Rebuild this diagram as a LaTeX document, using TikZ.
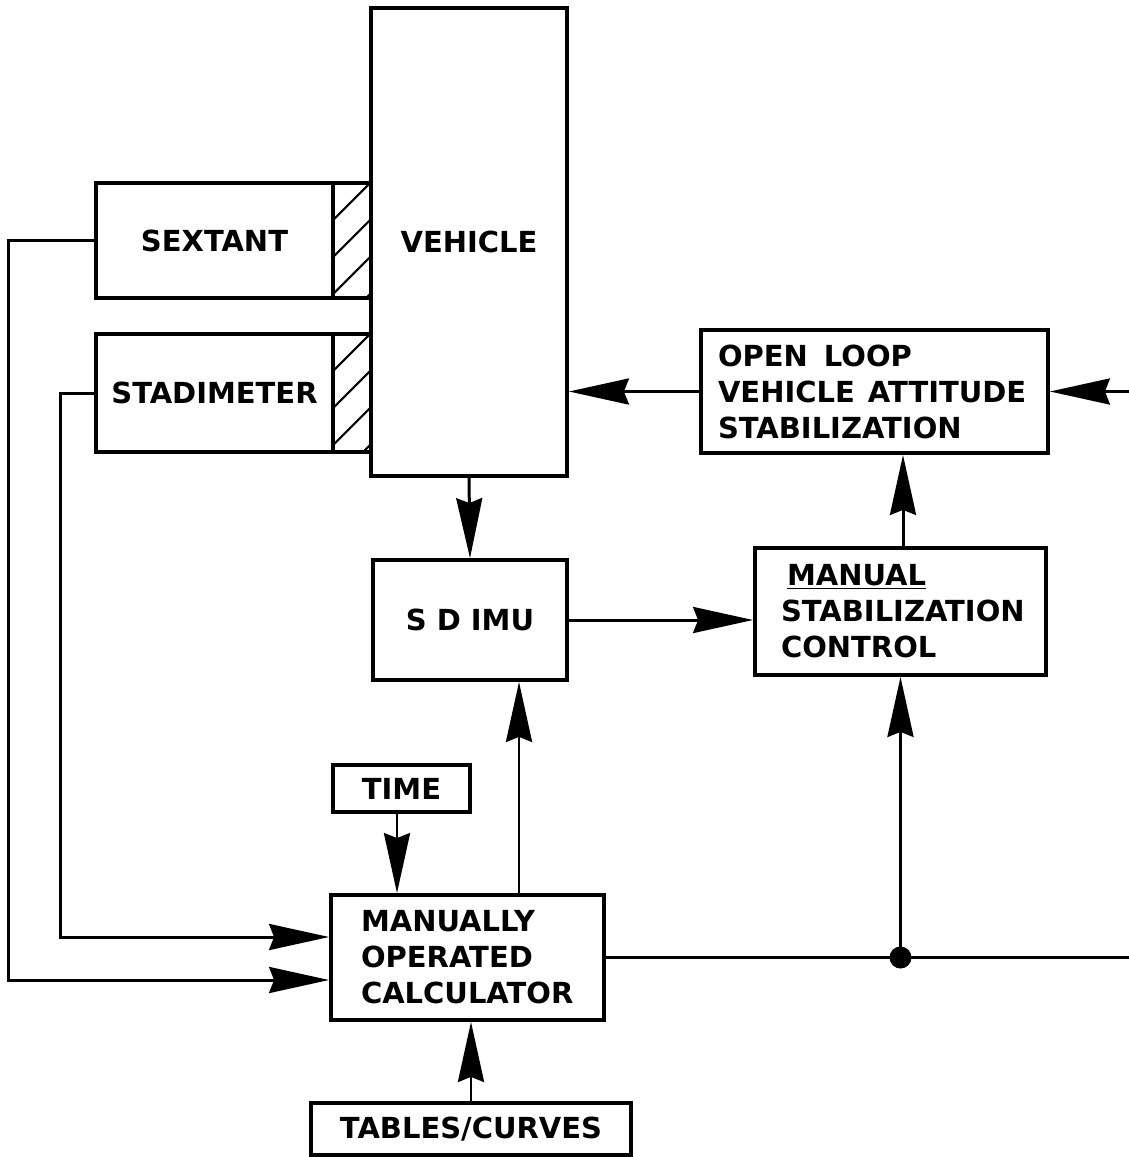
\documentclass[tikz,border=0pt]{standalone}
\usepackage{fontspec}
\setmainfont{DejaVu Sans}
\usetikzlibrary{arrows.meta,calc}
\tikzset{
  blk/.style={draw, line width=2.2pt, inner sep=0pt, font=\bfseries\fontsize{16.5pt}{20.5pt}\selectfont},
  lblk/.style={blk, align=left, inner xsep=#1, inner ysep=0pt},
  conn/.style={line width=1.7pt},
  arr/.style={conn, -{Stealth[length=1.2cm, width=0.52cm, inset=0.1cm]}},
  hatch/.style={line width=1.2pt}
}
\begin{document}
\begin{tikzpicture}[x=0.02cm, y=-0.02cm]
\useasboundingbox (0,0) rectangle (1129,1157);
% blocks
\node[blk, minimum width=3.92cm, minimum height=9.36cm] (veh) at (469,242) {VEHICLE};
\node[blk, minimum width=4.74cm, minimum height=2.3cm] (sext) at (214.5,240.5) {SEXTANT};
\node[blk, minimum width=4.74cm, minimum height=2.36cm] (stad) at (214.5,393) {STADIMETER};
\node[lblk=0.34cm, text width=6.26cm, minimum height=2.46cm] (olvas) at (874.5,391.5)
  {OPEN\hspace{0.55em}LOOP\\VEHICLE\hspace{0.45em}ATTITUDE\\STABILIZATION};
\node[blk, minimum width=3.88cm, minimum height=2.4cm] (imu) at (470,620) {S D IMU};
\node[lblk=0.52cm, text width=4.78cm, minimum height=2.54cm] (mstab) at (900.5,611.5)
  {\hspace{0.12cm}\underline{MANUAL}\\STABILIZATION\\CONTROL};
\node[blk, minimum width=2.74cm, minimum height=0.94cm] (time) at (401.5,788.5) {TIME};
\node[lblk=0.6cm, text width=4.26cm, minimum height=2.5cm] (calc) at (467.5,957.5)
  {MANUALLY\\OPERATED\\CALCULATOR};
\node[blk, minimum width=6.4cm, minimum height=1.04cm] (tab) at (471,1129) {TABLES/CURVES};
% hatched parts
\draw[line width=2.2pt] (333,183) rectangle (371,298);
\draw[line width=2.2pt] (333,334) rectangle (371,452);
\begin{scope}
\clip (333,183) rectangle (371,298);
\foreach \k in {220,257,294,331} \draw[hatch] (333,\k) -- ++(60,-60);
\end{scope}
\begin{scope}
\clip (333,334) rectangle (371,452);
\foreach \k in {371,408,445,482} \draw[hatch] (333,\k) -- ++(60,-60);
\end{scope}
% coordinates
\coordinate (rin) at (1129,391.5);
\coordinate (rout) at (1129,957.5);
\coordinate (cout) at ($(calc.north)+(51.5,0)$);
\coordinate (tout) at ($(time.south)+(-4.5,0)$);
\coordinate (mout) at ($(mstab.north)+(2.5,0)$);
\coordinate (cin1) at ($(calc.west)+(0,-20.5)$);
\coordinate (cin2) at ($(calc.west)+(0,22.5)$);
\node[circle, fill, inner sep=0pt, minimum size=0.44cm] (dot) at (mstab.south |- calc.east) {};
% connectors
\draw[arr] (sext.west) -- ++(-86,0) |- (cin2);
\draw[arr] (stad.west) -- ++(-34,0) |- (cin1);
\draw[arr] (veh.south) -- (imu.north);
\draw[arr] (imu.east) -- (imu.east -| mstab.west);
\draw[arr] (cout) -- (cout |- imu.south);
\draw[arr] (tout) -- (tout |- calc.north);
\draw[arr] (tab.north) -- (tab.north |- calc.south);
\draw[conn] (calc.east) -- (rout);
\draw[arr] (dot.center) -- (mstab.south);
\draw[arr] (mout) -- (mout |- olvas.south);
\draw[arr] (olvas.west) -- (olvas.west -| veh.east);
\draw[arr] (rin) -- (olvas.east);
\end{tikzpicture}
\end{document}
